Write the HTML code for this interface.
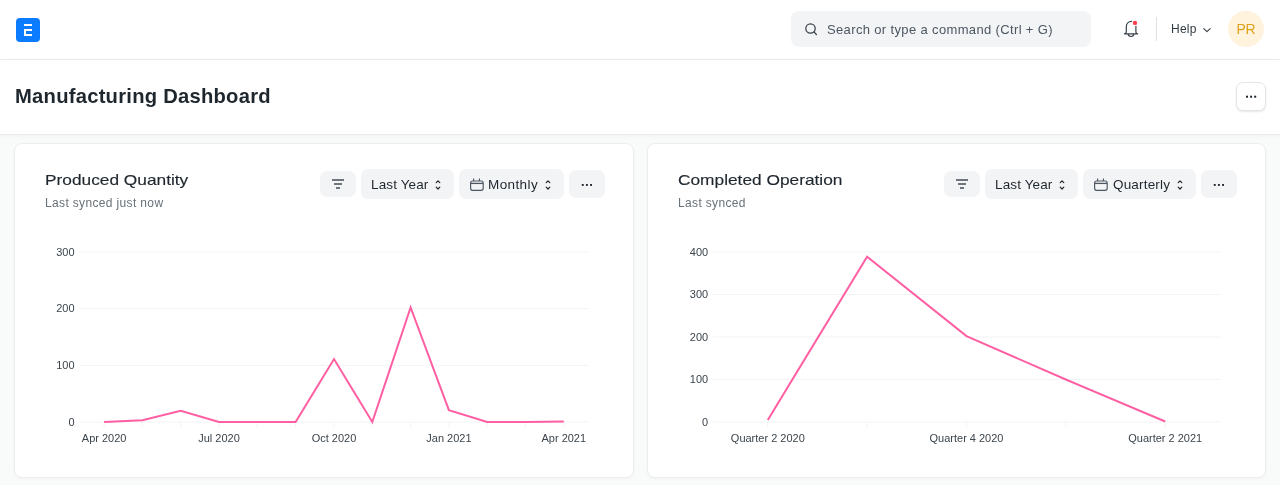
<!DOCTYPE html>
<html><head><meta charset="utf-8">
<style>
*{box-sizing:border-box;margin:0;padding:0}
html,body{width:1280px;height:485px;overflow:hidden}
body{background:#f9fafa;font-family:"Liberation Sans",sans-serif;color:#1f272e;position:relative}
.abs{position:absolute;will-change:transform}
.nav{left:0;top:0;width:1280px;height:60px;background:#fff;border-bottom:1px solid #eaecee;box-shadow:0 1px 4px rgba(0,0,0,0.04)}
.logo{left:16px;top:18px;width:24px;height:24px;background:#0b7bff;border-radius:4px}
.search{left:791px;top:11px;width:300px;height:36px;background:#f3f4f6;border-radius:8px}
.stext{left:827px;top:22px;font-size:13px;letter-spacing:0.355px;color:#4c5661;white-space:nowrap;line-height:16px}
.divider{left:1156px;top:17px;width:1px;height:24px;background:#dde1e5}
.help{left:1170.8px;top:22px;font-size:12px;letter-spacing:0.25px;color:#313b44;line-height:14px}
.avatar{left:1228px;top:11px;width:36px;height:36px;border-radius:50%;background:#fff3de;color:#e2a11c;font-size:14px;line-height:36px;text-align:center;letter-spacing:-0.4px;text-indent:-0.2px}
.phead{left:0;top:60px;width:1280px;height:75px;background:#fff;border-bottom:1px solid #e9ebed;box-shadow:0 1px 4px rgba(0,0,0,0.04)}
.ptitle{left:15.3px;top:84.8px;font-size:20.2px;font-weight:bold;letter-spacing:0.25px;line-height:22px;white-space:nowrap}
.mbtn{left:1236px;top:82px;width:30px;height:29px;border:1px solid #e2e6e9;border-radius:7px;background:#fff;box-shadow:0 1px 2px rgba(0,0,0,0.1)}
.card{top:143px;height:335px;background:#fff;border:1px solid #ebedef;border-radius:8px;box-shadow:0 1px 3px rgba(0,0,0,0.035)}
.ctitle{top:170.6px;font-size:15px;line-height:18px;white-space:nowrap;color:#1f272e;transform:scaleX(1.153);transform-origin:0 0;-webkit-text-stroke:0.15px #1f272e}
.csub{top:196px;font-size:12px;letter-spacing:0.35px;line-height:14px;white-space:nowrap;color:#687178}
.btn{background:#f3f4f6;border-radius:7px}
.btxt{font-size:13.5px;color:#1f272e;line-height:15px;white-space:nowrap}
svg text{font-family:"Liberation Sans",sans-serif}
</style></head><body>
<div class="abs nav"></div>
<div class="abs logo">
  <svg width="24" height="24" viewBox="0 0 24 24" style="position:absolute;left:0;top:0">
    <rect x="8" y="6" width="8" height="2" fill="#fff"/>
    <path d="M8 11h8v2h-6v3h6v2H8z" fill="#fff"/>
  </svg>
</div>
<div class="abs search">
  <svg width="14" height="14" viewBox="0 0 14 14" style="position:absolute;left:13px;top:12px">
    <circle cx="6.5" cy="5.5" r="4.7" fill="none" stroke="#394149" stroke-width="1.25"/>
    <path d="M9.9 8.9L12.4 11.5" stroke="#394149" stroke-width="1.25" stroke-linecap="round"/>
  </svg>
</div>
<div class="abs stext">Search or type a command (Ctrl + G)</div>
<svg class="abs" style="left:1120px;top:17px" width="22" height="24" viewBox="0 0 22 24">
  <path d="M11.6 4.3C8.4 4.3 6.3 6.6 6.3 9.6V15.3Q6.3 16.4 4.4 16.9H17.6Q15.9 16.4 15.9 15.3V9.3" fill="none" stroke="#394149" stroke-width="1.2" stroke-linecap="round" stroke-linejoin="round"/>
  <path d="M8.2 17.1a2.8 2.4 0 0 0 5.6 0" fill="none" stroke="#394149" stroke-width="1.2"/>
  <circle cx="15" cy="5.9" r="2.2" fill="#fb3f4f"/>
</svg>
<div class="abs divider"></div>
<div class="abs help">Help</div>
<svg class="abs" style="left:1202px;top:26px" width="10" height="8" viewBox="0 0 10 8">
  <path d="M1.8 2.6L5 5.6 8.2 2.6" fill="none" stroke="#394149" stroke-width="1.1" stroke-linecap="round" stroke-linejoin="round"/>
</svg>
<div class="abs avatar">PR</div>

<div class="abs phead"></div>
<div class="abs ptitle">Manufacturing Dashboard</div>
<div class="abs mbtn">
  <svg width="27" height="27" viewBox="0 0 27 27" style="position:absolute;left:0;top:0">
    <rect x="9" y="12.7" width="2" height="2" fill="#1f272e"/>
    <rect x="13.1" y="12.7" width="2" height="2" fill="#1f272e"/>
    <rect x="17.2" y="12.7" width="2" height="2" fill="#1f272e"/>
  </svg>
</div>

<!-- LEFT CARD -->
<div class="abs card" style="left:14px;width:620px"></div>
<div class="abs ctitle" style="left:45px">Produced Quantity</div>
<div class="abs csub" style="left:45px">Last synced just now</div>

<div class="abs btn" style="left:320px;top:171px;width:36px;height:26px"></div>
<svg class="abs" style="left:332px;top:179px" width="12" height="10" viewBox="0 0 12 10"><rect x="0" y="0" width="12" height="2" fill="#6f767d"/><rect x="2" y="4" width="8" height="2" fill="#6f767d"/><rect x="4" y="8" width="4" height="2" fill="#6f767d"/></svg>
<div class="abs btn" style="left:361px;top:169px;width:93px;height:30px"></div>
<div class="abs btxt" style="left:371.1px;top:176.8px;letter-spacing:0.125px">Last Year</div>
<svg class="abs" style="left:434.5px;top:179px" width="6" height="12" viewBox="0 0 6 12"><path d="M1.2 3.7L3 1.9 4.8 3.7M1.2 8.2L3 10 4.8 8.2" fill="none" stroke="#1f272e" stroke-width="1.2" stroke-linecap="round" stroke-linejoin="round"/></svg>
<div class="abs btn" style="left:459px;top:169px;width:105px;height:30px"></div>
<svg class="abs" style="left:469px;top:177px" width="15" height="15" viewBox="0 0 15 15"><rect x="1.6" y="4" width="12.6" height="9.3" rx="2" fill="none" stroke="#4c5661" stroke-width="1.15"/><path d="M2 6.4h12" stroke="#4c5661" stroke-width="1.3"/><path d="M4.6 1.4v2.6M10.4 1.4v2.6" stroke="#4c5661" stroke-width="1.1"/></svg>
<div class="abs btxt" style="left:488.1px;top:176.8px;letter-spacing:0.4px">Monthly</div>
<svg class="abs" style="left:545px;top:179px" width="6" height="12" viewBox="0 0 6 12"><path d="M1.2 3.7L3 1.9 4.8 3.7M1.2 8.2L3 10 4.8 8.2" fill="none" stroke="#1f272e" stroke-width="1.2" stroke-linecap="round" stroke-linejoin="round"/></svg>
<div class="abs btn" style="left:569px;top:170px;width:36px;height:28px"></div>
<svg class="abs" style="left:581px;top:183px" width="12" height="4" viewBox="0 0 12 4"><rect x="0.8" y="1" width="1.9" height="1.9" fill="#1f272e"/><rect x="4.95" y="1" width="1.9" height="1.9" fill="#1f272e"/><rect x="9.1" y="1" width="1.9" height="1.9" fill="#1f272e"/></svg>

<!-- RIGHT CARD -->
<div class="abs card" style="left:647px;width:619px"></div>
<div class="abs ctitle" style="left:678px">Completed Operation</div>
<div class="abs csub" style="left:678px">Last synced</div>

<div class="abs btn" style="left:944px;top:171px;width:36px;height:26px"></div>
<svg class="abs" style="left:956px;top:179px" width="12" height="10" viewBox="0 0 12 10"><rect x="0" y="0" width="12" height="2" fill="#6f767d"/><rect x="2" y="4" width="8" height="2" fill="#6f767d"/><rect x="4" y="8" width="4" height="2" fill="#6f767d"/></svg>
<div class="abs btn" style="left:985px;top:169px;width:93px;height:30px"></div>
<div class="abs btxt" style="left:995.1px;top:176.8px;letter-spacing:0.125px">Last Year</div>
<svg class="abs" style="left:1058.5px;top:179px" width="6" height="12" viewBox="0 0 6 12"><path d="M1.2 3.7L3 1.9 4.8 3.7M1.2 8.2L3 10 4.8 8.2" fill="none" stroke="#1f272e" stroke-width="1.2" stroke-linecap="round" stroke-linejoin="round"/></svg>
<div class="abs btn" style="left:1083px;top:169px;width:113px;height:30px"></div>
<svg class="abs" style="left:1093px;top:177px" width="15" height="15" viewBox="0 0 15 15"><rect x="1.6" y="4" width="12.6" height="9.3" rx="2" fill="none" stroke="#4c5661" stroke-width="1.15"/><path d="M2 6.4h12" stroke="#4c5661" stroke-width="1.3"/><path d="M4.6 1.4v2.6M10.4 1.4v2.6" stroke="#4c5661" stroke-width="1.1"/></svg>
<div class="abs btxt" style="left:1113.2px;top:176.8px;letter-spacing:0.175px">Quarterly</div>
<svg class="abs" style="left:1177px;top:179px" width="6" height="12" viewBox="0 0 6 12"><path d="M1.2 3.7L3 1.9 4.8 3.7M1.2 8.2L3 10 4.8 8.2" fill="none" stroke="#1f272e" stroke-width="1.2" stroke-linecap="round" stroke-linejoin="round"/></svg>
<div class="abs btn" style="left:1201px;top:170px;width:36px;height:28px"></div>
<svg class="abs" style="left:1213px;top:183px" width="12" height="4" viewBox="0 0 12 4"><rect x="0.8" y="1" width="1.9" height="1.9" fill="#1f272e"/><rect x="4.95" y="1" width="1.9" height="1.9" fill="#1f272e"/><rect x="9.1" y="1" width="1.9" height="1.9" fill="#1f272e"/></svg>

<svg class="abs" style="left:0;top:0" width="1280" height="485" viewBox="0 0 1280 485">
<g stroke="#f2f3f5" stroke-width="1"><line x1="79" y1="422.0" x2="589" y2="422.0"/><line x1="79" y1="365.3" x2="589" y2="365.3"/><line x1="79" y1="308.6" x2="589" y2="308.6"/><line x1="79" y1="251.9" x2="589" y2="251.9"/><line x1="104.1" y1="422.0" x2="104.1" y2="427.5"/><line x1="142.4" y1="422.0" x2="142.4" y2="427.5"/><line x1="180.7" y1="422.0" x2="180.7" y2="427.5"/><line x1="219.0" y1="422.0" x2="219.0" y2="427.5"/><line x1="257.3" y1="422.0" x2="257.3" y2="427.5"/><line x1="295.6" y1="422.0" x2="295.6" y2="427.5"/><line x1="334.0" y1="422.0" x2="334.0" y2="427.5"/><line x1="372.3" y1="422.0" x2="372.3" y2="427.5"/><line x1="410.6" y1="422.0" x2="410.6" y2="427.5"/><line x1="448.9" y1="422.0" x2="448.9" y2="427.5"/><line x1="487.2" y1="422.0" x2="487.2" y2="427.5"/><line x1="525.5" y1="422.0" x2="525.5" y2="427.5"/><line x1="563.8" y1="422.0" x2="563.8" y2="427.5"/></g>
<g fill="#3b444c" font-size="10"><text transform="translate(74.6,425.7) scale(1.1,1)" text-anchor="end">0</text><text transform="translate(74.6,369.0) scale(1.1,1)" text-anchor="end">100</text><text transform="translate(74.6,312.3) scale(1.1,1)" text-anchor="end">200</text><text transform="translate(74.6,255.6) scale(1.1,1)" text-anchor="end">300</text><text transform="translate(104.1,442.0) scale(1.1,1)" text-anchor="middle">Apr 2020</text><text transform="translate(219.0,442.0) scale(1.1,1)" text-anchor="middle">Jul 2020</text><text transform="translate(334.0,442.0) scale(1.1,1)" text-anchor="middle">Oct 2020</text><text transform="translate(448.9,442.0) scale(1.1,1)" text-anchor="middle">Jan 2021</text><text transform="translate(563.8,442.0) scale(1.1,1)" text-anchor="middle">Apr 2021</text></g>
<polyline points="104.1,422.0 142.4,420.3 180.7,410.7 219.0,422.0 257.3,422.0 295.6,422.0 334.0,359.1 372.3,422.0 410.6,307.5 448.9,410.1 487.2,422.0 525.5,422.0 563.8,421.4" fill="none" stroke="#ff5fa2" stroke-width="2" stroke-linejoin="miter"/>
<g stroke="#f2f3f5" stroke-width="1"><line x1="713" y1="422.0" x2="1221" y2="422.0"/><line x1="713" y1="379.5" x2="1221" y2="379.5"/><line x1="713" y1="337.0" x2="1221" y2="337.0"/><line x1="713" y1="294.5" x2="1221" y2="294.5"/><line x1="713" y1="252.0" x2="1221" y2="252.0"/><line x1="767.8" y1="422.0" x2="767.8" y2="427.5"/><line x1="867.1" y1="422.0" x2="867.1" y2="427.5"/><line x1="966.5" y1="422.0" x2="966.5" y2="427.5"/><line x1="1065.8" y1="422.0" x2="1065.8" y2="427.5"/><line x1="1165.2" y1="422.0" x2="1165.2" y2="427.5"/></g>
<g fill="#3b444c" font-size="10"><text transform="translate(708.2,425.7) scale(1.1,1)" text-anchor="end">0</text><text transform="translate(708.2,383.2) scale(1.1,1)" text-anchor="end">100</text><text transform="translate(708.2,340.7) scale(1.1,1)" text-anchor="end">200</text><text transform="translate(708.2,298.2) scale(1.1,1)" text-anchor="end">300</text><text transform="translate(708.2,255.7) scale(1.1,1)" text-anchor="end">400</text><text transform="translate(767.8,442.0) scale(1.1,1)" text-anchor="middle">Quarter 2 2020</text><text transform="translate(966.5,442.0) scale(1.1,1)" text-anchor="middle">Quarter 4 2020</text><text transform="translate(1165.2,442.0) scale(1.1,1)" text-anchor="middle">Quarter 2 2021</text></g>
<polyline points="767.8,419.9 867.1,256.7 966.5,336.1 1065.8,379.5 1165.2,421.5" fill="none" stroke="#ff5fa2" stroke-width="2" stroke-linejoin="miter"/>
</svg>
</body></html>
